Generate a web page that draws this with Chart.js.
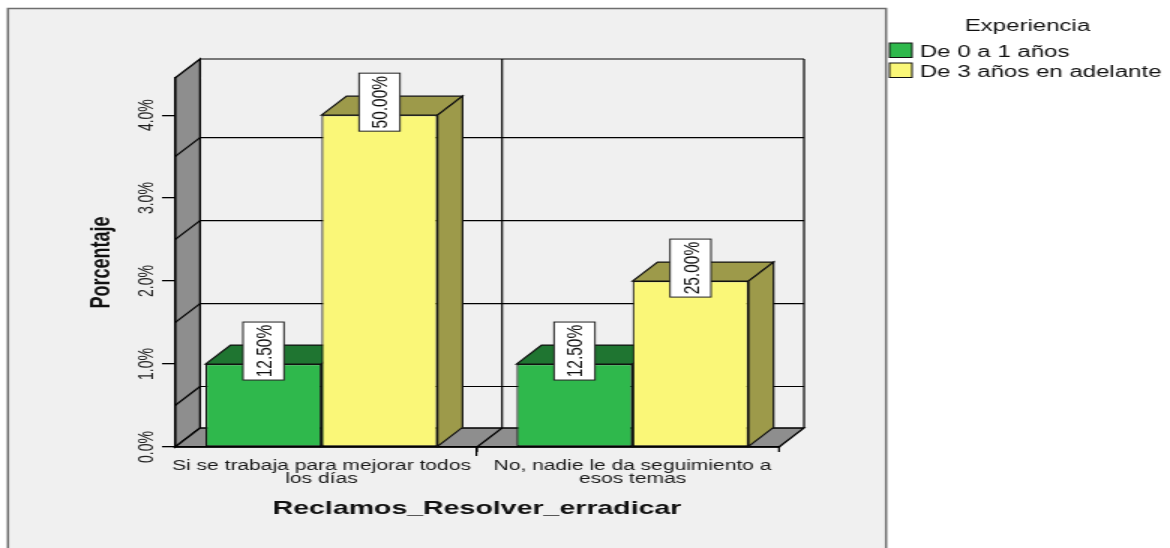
<!DOCTYPE html>
<html>
<head>
<meta charset="utf-8">
<script src="https://cdn.jsdelivr.net/npm/chart.js@4"></script>
<style>
  html, body { margin: 0; padding: 0; background: #fff; overflow: hidden; }
  canvas { display: block; }
</style>
</head>
<body>
<!-- drawn on a narrower bitmap, displayed stretched to the full width -->
<canvas id="c" width="780" height="548" style="width:1170px;height:548px"></canvas>
<script>
// ---- data ----
const categories = [
  ['Si se trabaja para mejorar todos', 'los días'],
  ['No, nadie le da seguimiento a', 'esos temas']
];
const seriesNames = ['De 0 a 1 años', 'De 3 años en adelante'];
const pctDe0a1 = [12.5, 12.5];
const pctDe3Adelante = [50, 25];
const tickValues = [0, 12.5, 25, 37.5, 50];
const tickLabels = ['0.0%', '1.0%', '2.0%', '3.0%', '4.0%'];
const legendTitle = 'Experiencia';
const xTitle = 'Reclamos_Resolver_erradicar';
const yTitle = 'Porcentaje';

// ---- style ----
const FONT = '"Liberation Sans", Arial, Helvetica, sans-serif';
const frontColors = ['#2fb84c', '#faf778'];
const shadeColors = ['#1f7531', '#9d9a4a'];
const wallGray = '#8e8e8e';
const DX = 16.7, DY = -19;   // depth offset of the 3D box

function line(ctx, x1, y1, x2, y2) {
  ctx.beginPath(); ctx.moveTo(x1, y1); ctx.lineTo(x2, y2); ctx.stroke();
}
function poly(ctx, pts, fill, stroke, lw) {
  ctx.beginPath();
  pts.forEach((p, i) => i ? ctx.lineTo(p[0], p[1]) : ctx.moveTo(p[0], p[1]));
  ctx.closePath();
  if (fill) { ctx.fillStyle = fill; ctx.fill(); }
  if (stroke) { ctx.strokeStyle = stroke; ctx.lineWidth = lw || 1.2; ctx.lineJoin = 'miter'; ctx.stroke(); }
}

const scene3d = {
  id: 'scene3d',
  beforeDraw(chart) {
    const { ctx, chartArea: a, scales: { x, y } } = chart;
    ctx.save();
    ctx.fillStyle = '#fff';
    ctx.fillRect(0, 0, chart.width, chart.height);
    // chart panel
    ctx.fillStyle = '#f0f0f0';
    ctx.fillRect(5.3, 8.5, 585.4, 560);
    ctx.strokeStyle = '#6e6e6e'; ctx.lineWidth = 1.5;
    ctx.strokeRect(5.3, 8.5, 585.4, 560);

    const bl = a.left + DX, br = a.right + DX, bt = a.top + DY, bb = a.bottom + DY;
    const mid = (x.getPixelForValue(0) + x.getPixelForValue(1)) / 2;
    ctx.strokeStyle = '#000'; ctx.lineWidth = 1.2;
    // back wall gridlines, halfway between ticks
    const gridYs = [];
    for (let i = 0; i < tickValues.length - 1; i++) {
      gridYs.push(y.getPixelForValue((tickValues[i] + tickValues[i + 1]) / 2));
    }
    gridYs.forEach(py => line(ctx, bl, py + DY, br, py + DY));
    line(ctx, bl, bt, br, bt);
    line(ctx, br, bt, br, bb);
    line(ctx, mid + DX, bt, mid + DX, bb);

    // left side wall
    poly(ctx, [[a.left, a.top], [bl, bt], [bl, bb], [a.left, a.bottom]], wallGray, '#000', 1.3);
    ctx.strokeStyle = '#000'; ctx.lineWidth = 1.2;
    gridYs.forEach(py => line(ctx, a.left, py, bl, py + DY));

    // floor
    poly(ctx, [[a.left, a.bottom], [a.right, a.bottom], [br, bb], [bl, bb]], wallGray, '#000', 1.3);
    ctx.strokeStyle = '#000'; ctx.lineWidth = 1.2;
    line(ctx, mid, a.bottom, mid + DX, bb);
    // short ticks at the category boundaries
    line(ctx, mid, a.bottom, mid, a.bottom + 5);
    line(ctx, a.right, a.bottom, a.right, a.bottom + 5);
    ctx.restore();
  },
  beforeDatasetsDraw(chart) {
    const { ctx } = chart;
    ctx.save();
    chart.data.datasets.forEach((ds, di) => {
      chart.getDatasetMeta(di).data.forEach(bar => {
        const { x, y, base, width } = bar.getProps(['x', 'y', 'base', 'width'], true);
        const l = x - width / 2, r = x + width / 2;
        // top face
        poly(ctx, [[l, y], [l + DX, y + DY], [r + DX, y + DY], [r, y]], shadeColors[di], '#111', 1.2);
        // right side face
        poly(ctx, [[r, y], [r + DX, y + DY], [r + DX, base + DY], [r, base]], shadeColors[di], '#111', 1.2);
      });
    });
    ctx.restore();
  },
  afterDatasetsDraw(chart) {
    const { ctx } = chart;
    ctx.save();
    chart.data.datasets.forEach((ds, di) => {
      chart.getDatasetMeta(di).data.forEach((bar, i) => {
        const { x, y } = bar.getProps(['x', 'y'], true);
        const text = ds.data[i].toFixed(2) + '%';
        const cy = y - 13, w = 27.3, h = 58;
        ctx.fillStyle = '#fff';
        ctx.fillRect(x - w / 2, cy - h / 2, w, h);
        ctx.strokeStyle = '#222'; ctx.lineWidth = 1;
        ctx.strokeRect(x - w / 2, cy - h / 2, w, h);
        ctx.save();
        ctx.translate(x, cy);
        ctx.rotate(-Math.PI / 2);
        ctx.fillStyle = '#111';
        ctx.font = '15.5px ' + FONT;
        ctx.textAlign = 'center';
        ctx.textBaseline = 'middle';
        ctx.fillText(text, 0, 1);
        ctx.restore();
      });
    });
    ctx.restore();
  },
  afterDraw(chart) {
    const { ctx, scales: { y } } = chart;
    ctx.save();
    // rotated y tick labels
    ctx.fillStyle = '#222';
    ctx.font = '14px ' + FONT;
    ctx.textAlign = 'center';
    ctx.textBaseline = 'middle';
    tickValues.forEach((v, i) => {
      ctx.save();
      ctx.translate(98.3, y.getPixelForValue(v));
      ctx.rotate(-Math.PI / 2);
      ctx.fillText(tickLabels[i], 0, 0);
      ctx.restore();
    });
    // legend
    ctx.fillStyle = '#111';
    ctx.font = '16px ' + FONT;
    ctx.textAlign = 'center';
    ctx.textBaseline = 'alphabetic';
    ctx.fillText(legendTitle, 685, 31);
    ctx.textAlign = 'left';
    chart.data.datasets.forEach((ds, i) => {
      const top = 43 + i * 20;
      ctx.fillStyle = ds.backgroundColor;
      ctx.fillRect(593, top, 15, 14.5);
      ctx.strokeStyle = '#111'; ctx.lineWidth = 1;
      ctx.strokeRect(593, top, 15, 14.5);
      ctx.fillStyle = '#111';
      ctx.fillText(ds.label, 613.3, top + 14);
    });
    ctx.restore();
  }
};

new Chart(document.getElementById('c'), {
  type: 'bar',
  data: {
    // category positions on the x scale; their text comes from `categories`
    labels: categories.map((_, i) => i),
    datasets: [
      { label: seriesNames[0], data: pctDe0a1, backgroundColor: frontColors[0] },
      { label: seriesNames[1], data: pctDe3Adelante, backgroundColor: frontColors[1] }
    ]
  },
  options: {
    responsive: false,
    devicePixelRatio: 1,
    animation: false,
    events: [],
    layout: { padding: { left: 57, right: 260.67, top: 78, bottom: 28 } },
    datasets: {
      bar: {
        borderColor: '#111', borderWidth: 1.2, borderSkipped: false,
        categoryPercentage: 0.746, barPercentage: 1
      }
    },
    plugins: { legend: { display: false }, tooltip: { enabled: false } },
    scales: {
      x: {
        type: 'linear',
        min: -0.471,
        max: 1.471,
        offset: false,
        afterBuildTicks(s) { s.ticks = categories.map((_, i) => ({ value: i })); },
        grid: { display: true, drawOnChartArea: false, drawTicks: true, tickLength: 9, color: '#000', lineWidth: 1.2 },
        border: { display: true, color: '#000', width: 1.4 },
        ticks: {
          color: '#1a1a1a', font: { family: FONT, size: 14, lineHeight: 0.98 }, padding: 3,
          maxRotation: 0, minRotation: 0, autoSkip: false,
          callback: (v) => categories[Math.round(v)]
        },
        title: { display: true, text: xTitle, color: '#111', font: { family: FONT, size: 19, weight: 'bold' }, padding: { top: 0, bottom: 0 } },
        afterFit(s) { s.height = 73; }
      },
      y: {
        min: 0,
        max: 55.6,
        afterBuildTicks(s) { s.ticks = tickValues.map(v => ({ value: v })); },
        grid: { display: true, drawOnChartArea: false, drawTicks: true, tickLength: 8.7, color: '#000', lineWidth: 1.3 },
        border: { display: true, color: '#000', width: 1.4 },
        ticks: { display: false },
        title: { display: true, text: yTitle, color: '#111', font: { family: FONT, size: 18, weight: 'bold' }, padding: { top: 0, bottom: 0 } },
        afterFit(s) { s.width = 59.67; }
      }
    }
  },
  plugins: [scene3d]
});
</script>
</body>
</html>
